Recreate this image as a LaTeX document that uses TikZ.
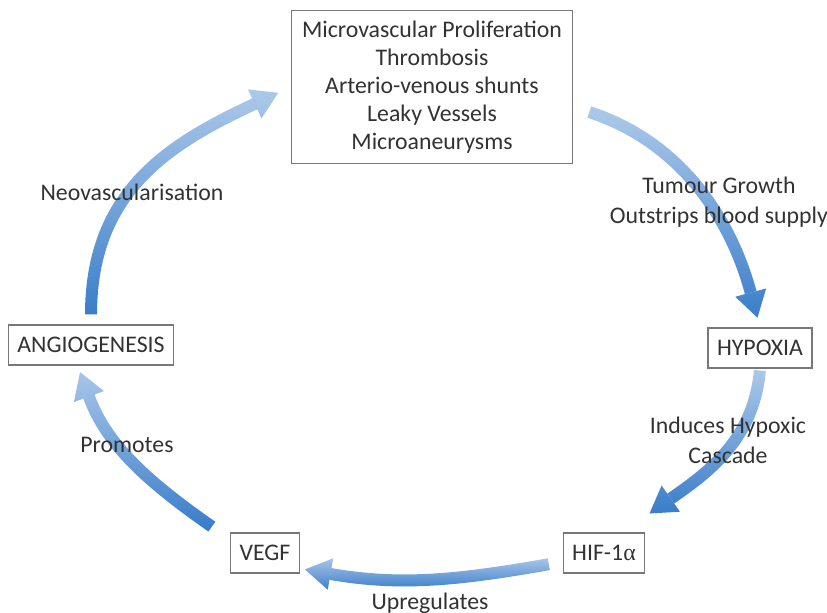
\documentclass[tikz,border=0pt]{standalone}
\usepackage{fontspec}
\setmainfont{Carlito}
\newfontfamily\alphafont{Liberation Serif}
\usetikzlibrary{arrows.meta,fadings}

\definecolor{flowdark}{RGB}{50,120,200}
\definecolor{boxline}{RGB}{120,120,120}
\definecolor{inktext}{RGB}{50,50,50}

% pale at the top, full colour at the bottom
\tikzfading[name=fadeup, top color=transparent!62, bottom color=transparent!0]

\tikzset{
  stage/.style={draw=boxline, line width=0.6pt, rectangle, minimum height=20pt, inner xsep=4.5pt, text=inktext},
  cue/.style={text=inktext, align=center},
  flow/.style={line width=6pt, draw=flowdark, path fading=fadeup, -{Triangle[width=16pt,length=13pt,line width=0pt]}},
}

\begin{document}
\begin{tikzpicture}[x=0.5pt, y=0.5pt, font=\fontsize{11.9}{14}\selectfont]
\useasboundingbox (0,0) rectangle (827,613);

\node[stage, minimum width=140.5pt, minimum height=76.5pt, align=center] (lesions) at (432,526)
  {Microvascular Proliferation\\ Thrombosis\\ Arterio-venous shunts\\ Leaky Vessels\\ Microaneurysms};
\node[stage] (hypoxia) at (760,265) {HYPOXIA};
\node[stage] (hif) at (604,60) {HIF-1{\alphafont α}};
\node[stage] (vegf) at (265,60) {VEGF};
\node[stage] (angio) at (91,268) {ANGIOGENESIS};

% the cycle
\draw[flow, shorten <=5pt, shorten >=7pt, looseness=1.1] (angio.north) to[out=90,in=205] (lesions.west);
\draw[flow, shorten <=8.5pt, shorten >=5pt] (lesions.-8) to[out=-18,in=105] (hypoxia.north);
\draw[flow, shorten <=1pt, shorten >=2.5pt] (hypoxia.south) to[out=-95,in=35] ([yshift=8pt]hif.north east);
\draw[flow, shorten <=7pt, shorten >=2.5pt] (hif.192) to[out=190,in=-10] (vegf.-24);
\draw[flow, shorten <=5pt, shorten >=3.5pt] ([xshift=-5pt]vegf.north west) to[out=145,in=-70] (angio.-123);

\node[cue] (neo) at (132,421) {Neovascularisation};
\node[cue] (tumour) at (719,411) {Tumour Growth\\[1pt] Outstrips blood supply};
\node[cue] (induces) at (728,173) {Induces Hypoxic\\[1pt] Cascade};
\node[cue] (upreg) at (430,10) {Upregulates};
\node[cue] (promotes) at (127,168) {Promotes};
\end{tikzpicture}
\end{document}
